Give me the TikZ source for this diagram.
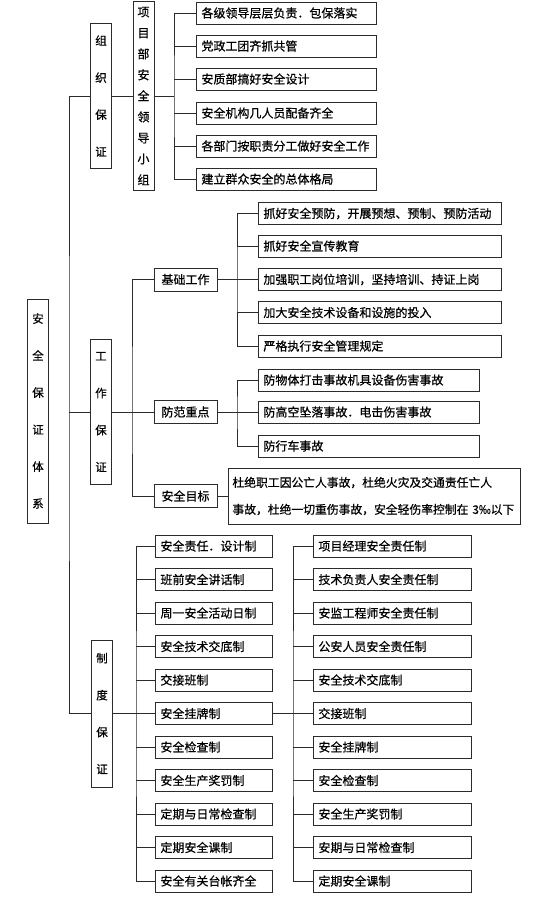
\documentclass[tikz,border=0pt]{standalone}
\usepackage{fontspec}
\setmainfont{Noto Sans CJK SC}[FakeBold=0.6]
\usepackage{xcolor}
\usepackage{tikz}
\usetikzlibrary{calc}
\definecolor{sline}{HTML}{2B2B2B}
\tikzset{
  slink/.style={draw=sline, line width=0.9pt},
  sbox/.style={draw=sline, line width=0.9pt, anchor=west, align=left,
               minimum height=22pt, inner xsep=5pt, inner ysep=0pt,
               text width=#1, font=\fontsize{12}{14}\selectfont},
  svert/.style={draw=sline, line width=0.9pt, align=center, inner sep=0pt,
                minimum width=21pt, minimum height=#1,
                font=\fontsize{11.5}{37}\selectfont},
  shead/.style={draw=sline, line width=0.9pt, inner sep=0pt,
                minimum width=63pt, minimum height=23pt,
                font=\fontsize{12}{14}\selectfont},
}
\begin{document}
\begin{tikzpicture}[x=1pt,y=-1pt]
  \useasboundingbox (0,0) rectangle (553,898);

  % 体系与三大保证
  \node[svert=224pt] (root) at (38,411) {安\\全\\保\\证\\体\\系};
  \node[svert=145pt] (zz) at (101,96) {组\\织\\保\\证};
  \node[svert=145pt] (gz) at (101,412) {工\\作\\保\\证};
  \node[svert=147pt] (zd) at (102,713.5) {制\\度\\保\\证};
  \coordinate (tk) at (69,412);
  \draw[slink] (zz.west) -| (tk) |- (zd.west);
  \draw[slink] (gz.west) -- (tk);

  % 组织保证
  \node[svert=189pt, font=\fontsize{12}{21}\selectfont] (xm) at (143.5,96)
       {项\\目\\部\\安\\全\\领\\导\\小\\组};
  \draw[slink] (zz.east) -- (xm.west);
  \node[sbox=170pt] (z1) at (196,13)  {各级领导层层负责．包保落实};
  \node[sbox=170pt] (z2) at (196,46)  {党政工团齐抓共管};
  \node[sbox=170pt] (z3) at (196,79)  {安质部搞好安全设计};
  \node[sbox=170pt] (z4) at (196,113) {安全机构几人员配备齐全};
  \node[sbox=170pt] (z5) at (196,146) {各部门按职责分工做好安全工作};
  \node[sbox=170pt] (z6) at (196,179) {建立群众安全的总体格局};
  \coordinate (bz) at (174,96);
  \draw[slink] (xm.east) -- (bz);
  \draw[slink] (z1.west) -| (bz) |- (z6.west);
  \foreach \i in {2,...,5} \draw[slink] (z\i.west) -- (z\i.west -| bz);

  % 工作保证
  \node[shead] (jc) at (185.5,279.5) {基础工作};
  \node[shead] (ff) at (185.5,412) {防范重点};
  \node[shead] (mb) at (185.5,496) {安全目标};
  \coordinate (bg) at (132,412);
  \draw[slink] (gz.east) -- (bg);
  \draw[slink] (jc.west) -| (bg) |- (mb.west);
  \draw[slink] (ff.west) -- (bg);

  % 基础工作
  \node[sbox=233pt] (j1) at (258,213.5) {抓好安全预防，开展预想、预制、预防活动};
  \node[sbox=233pt] (j2) at (258,246)   {抓好安全宣传教育};
  \node[sbox=233pt] (j3) at (258,279.5) {加强职工岗位培训，坚持培训、持证上岗};
  \node[sbox=233pt] (j4) at (258,312.5) {加大安全技术设备和设施的投入};
  \node[sbox=233pt] (j5) at (258,346)   {严格执行安全管理规定};
  \coordinate (bj) at (237,279.5);
  \draw[slink] (jc.east) -- (bj);
  \draw[slink] (j1.west) -| (bj) |- (j5.west);
  \foreach \i in {2,...,4} \draw[slink] (j\i.west) -- (j\i.west -| bj);

  % 防范重点
  \node[sbox=211pt] (f1) at (258,380) {防物体打击事故机具设备伤害事故};
  \node[sbox=211pt] (f2) at (258,412) {防高空坠落事故．电击伤害事故};
  \node[sbox=211pt] (f3) at (258,446) {防行车事故};
  \coordinate (bf) at (237,412);
  \draw[slink] (ff.east) -- (bf);
  \draw[slink] (f1.west) -| (bf) |- (f3.west);
  \draw[slink] (f2.west) -- (bf);

  % 安全目标
  \node[sbox=284pt, inner xsep=4pt, minimum height=56pt,
        font=\fontsize{11.8}{27}\selectfont] (m1) at (228,496)
       {杜绝职工因公亡人事故，杜绝火灾及交通责任亡人\\
        事故，杜绝一切重伤事故，安全轻伤率控制在 3‰以下};
  \draw[slink] (mb.east) -- (m1.west);

  % 制度保证（左列）
  \node[sbox=107pt] (l1)  at (155,546)   {安全责任．设计制};
  \node[sbox=107pt] (l2)  at (155,579.5) {班前安全讲话制};
  \node[sbox=107pt] (l3)  at (155,613)   {周一安全活动日制};
  \node[sbox=107pt] (l4)  at (155,646.5) {安全技术交底制};
  \node[sbox=107pt] (l5)  at (155,680)   {交接班制};
  \node[sbox=107pt] (l6)  at (155,713.5) {安全挂牌制};
  \node[sbox=107pt] (l7)  at (155,747)   {安全检查制};
  \node[sbox=107pt] (l8)  at (155,780.5) {安全生产奖罚制};
  \node[sbox=107pt] (l9)  at (155,814)   {定期与日常检查制};
  \node[sbox=107pt] (l10) at (155,847.5) {定期安全课制};
  \node[sbox=107pt] (l11) at (155,881)   {安全有关台帐齐全};
  \coordinate (bl) at (136,713.5);
  \draw[slink] (zd.east) -- (bl);
  \draw[slink] (l1.west) -| (bl) |- (l11.west);
  \foreach \i in {2,...,10} \draw[slink] (l\i.west) -- (l\i.west -| bl);

  % 制度保证（右列）
  \node[sbox=148pt] (r1)  at (313,546)   {项目经理安全责任制};
  \node[sbox=148pt] (r2)  at (313,579.5) {技术负责人安全责任制};
  \node[sbox=148pt] (r3)  at (313,613)   {安监工程师安全责任制};
  \node[sbox=148pt] (r4)  at (313,646.5) {公安人员安全责任制};
  \node[sbox=148pt] (r5)  at (313,680)   {安全技术交底制};
  \node[sbox=148pt] (r6)  at (313,713.5) {交接班制};
  \node[sbox=148pt] (r7)  at (313,747)   {安全挂牌制};
  \node[sbox=148pt] (r8)  at (313,780.5) {安全检查制};
  \node[sbox=148pt] (r9)  at (313,814)   {安全生产奖罚制};
  \node[sbox=148pt] (r10) at (313,847.5) {安期与日常检查制};
  \node[sbox=148pt] (r11) at (313,881)   {定期安全课制};
  \coordinate (br) at (293,713.5);
  \draw[slink] (l6.east) -- (br);
  \draw[slink] (r1.west) -| (br) |- (r11.west);
  \foreach \i in {2,...,10} \draw[slink] (r\i.west) -- (r\i.west -| br);

\end{tikzpicture}
\end{document}
